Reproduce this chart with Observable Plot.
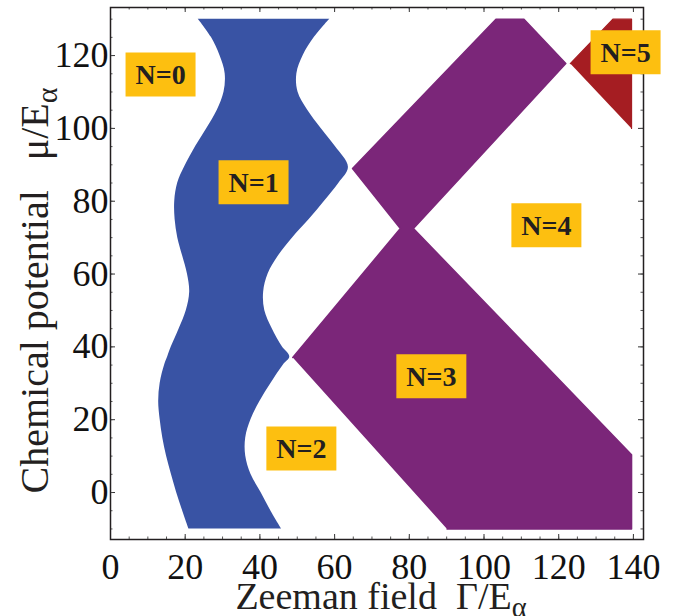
<!DOCTYPE html>
<html><head><meta charset="utf-8">
<script src="https://cdn.jsdelivr.net/npm/d3@7"></script>
<script src="https://cdn.jsdelivr.net/npm/@observablehq/plot@0.6"></script>
<style>body{margin:0;background:#fff} svg text{white-space:pre}</style>
</head><body><div id="chart"></div><script>
// N=1 region (blue): left / right boundary x at given chemical potential y
const blueY     = [-10, -5, 0, 5, 10, 15, 20, 25, 30, 35, 37.2, 40, 45, 50, 55, 60, 65, 70, 75, 80, 85, 89.3, 95, 100, 105, 110, 115, 120, 125, 130];
const blueLeft  = [21.0, 19.3, 17.7, 16.3, 15.0, 14.0, 13.3, 12.9, 13.3, 14.5, 15.3, 16.3, 18.4, 20.3, 21.2, 20.6, 19.3, 18.0, 17.3, 17.2, 18.0, 19.8, 22.8, 25.8, 28.6, 30.4, 30.7, 29.3, 27.0, 23.5];
const blueRight = [45.8, 42.9, 40.3, 37.6, 36.2, 36.2, 37.6, 40.0, 43.0, 46.3, 48.0, 46.0, 43.3, 41.3, 41.0, 42.2, 45.0, 48.8, 53.2, 57.3, 61.2, 63.7, 60.2, 56.4, 52.8, 50.2, 49.9, 51.6, 54.6, 58.7];
// N=3 region (purple) outline
const purpleX = [48.8, 77.6, 64.8, 103.2, 110.7, 121.9, 81.1, 139.5, 139.5, 90.1];
const purpleY = [37.1, 72.5, 89.0, 130, 130, 117.8, 72.5, 10.4, -10, -10];
// N=5 region (red) outline
const redX = [123.1, 134.5, 139.5, 139.5];
const redY = [117.8, 130, 130, 100];
// region labels
const labelText = ["N=0", "N=1", "N=2", "N=3", "N=4", "N=5"];
const labelX = [13.4, 38.3, 51.1, 85.9, 116.7, 137.9];
const labelY = [114.8, 85.2, 12.1, 31.9, 73.4, 120.9];
// ticks
const xTicks = [0, 20, 40, 60, 80, 100, 120, 140];
const yTicks = [0, 20, 40, 60, 80, 100, 120];
const xMinor = d3.range(0, 141, 5);
const yMinor = d3.range(-10, 131, 5);
const xTitle = "Zeeman field  \u0393/E";
const yTitle = "Chemical potential   \u03bc/E";
const subscript = "\u03b1";

const W = 679, H = 616, mL = 110, mR = 36, mT = 7, mB = 77;
const fw = W - mL - mR, fh = H - mT - mB;
const serif = "'Liberation Serif', 'Times New Roman', serif";

const blue = blueY.map((y, i) => ({y, x1: blueLeft[i], x2: blueRight[i]}));
const purple = purpleX.map((x, i) => ({x, y: purpleY[i]}));
const red = redX.map((x, i) => ({x, y: redY[i]}));
const labels = labelText.map((t, i) => ({t, x: labelX[i], y: labelY[i]}));
const box = {draw(ctx) { ctx.moveTo(-35, -22); ctx.lineTo(35, -22); ctx.lineTo(35, 22); ctx.lineTo(-35, 22); ctx.closePath(); }};

const svg = Plot.plot({
  width: W, height: H,
  marginLeft: mL, marginRight: mR, marginTop: mT, marginBottom: mB,
  style: {fontFamily: serif, background: "#fff", color: "#231F20"},
  x: {domain: [0, 142.7]},
  y: {domain: [-12.9, 133.2]},
  marks: [
    Plot.areaX(blue, {y: "y", x1: "x1", x2: "x2", fill: "#3953A4", curve: "catmull-rom"}),
    Plot.line(purple, {x: "x", y: "y", fill: "#7B2679", stroke: "#7B2679", strokeWidth: 1.5, strokeLinejoin: "round"}),
    Plot.line(red, {x: "x", y: "y", fill: "#A51D22", stroke: "#A51D22", strokeWidth: 1.2, strokeLinejoin: "round"}),
    Plot.tickX(xTicks, {x: d => d, insetTop: fh - 5, stroke: "#333", strokeWidth: 1}),
    Plot.tickX(xMinor, {x: d => d, insetTop: fh - 2.5, stroke: "#555", strokeWidth: 1}),
    Plot.tickX(xTicks, {x: d => d, insetBottom: fh - 5, stroke: "#333", strokeWidth: 1}),
    Plot.tickX(xMinor, {x: d => d, insetBottom: fh - 2.5, stroke: "#555", strokeWidth: 1}),
    Plot.tickY(yTicks, {y: d => d, insetRight: fw - 5, stroke: "#333", strokeWidth: 1}),
    Plot.tickY(yMinor, {y: d => d, insetRight: fw - 2.5, stroke: "#555", strokeWidth: 1}),
    Plot.tickY(yTicks, {y: d => d, insetLeft: fw - 5, stroke: "#333", strokeWidth: 1}),
    Plot.tickY(yMinor, {y: d => d, insetLeft: fw - 2.5, stroke: "#555", strokeWidth: 1}),
    Plot.frame({stroke: "#231F20", strokeWidth: 1.5}),
    Plot.axisX({ticks: xTicks, tickSize: 0, tickPadding: 14, fontSize: 36, fontFamily: serif, label: null, fill: "#111"}),
    Plot.axisY({ticks: yTicks, tickSize: 0, tickPadding: 2, fontSize: 36, fontFamily: serif, label: null, fill: "#111"}),
    Plot.dot(labels, {x: "x", y: "y", symbol: box, r: 1, fill: "#FDBF10", stroke: "none", clip: false}),
    Plot.text(labels, {x: "x", y: "y", text: "t", fontSize: 28, fontWeight: "bold", fontFamily: serif, fill: "#231F20", dy: 1}),
    Plot.text([xTitle], {text: d => d, frameAnchor: "bottom", lineAnchor: "bottom", textAnchor: "middle", dy: 69, dx: 4, fontSize: 38, fontFamily: serif, fill: "#231F20", className: "xtitle"}),
    Plot.text([yTitle], {text: d => d, frameAnchor: "left", lineAnchor: "bottom", textAnchor: "middle", rotate: -90, dx: -63, dy: 17, fontSize: 40, fontFamily: serif, fill: "#231F20", className: "ytitle"})
  ]
});

for (const cls of ["xtitle", "ytitle"]) {
  svg.querySelectorAll(`g.${cls} text`).forEach(t => {
    t.setAttributeNS("http://www.w3.org/XML/1998/namespace", "xml:space", "preserve");
    const sub = document.createElementNS("http://www.w3.org/2000/svg", "tspan");
    sub.setAttribute("font-size", "0.75em");
    sub.setAttribute("dy", "0.3em");
    sub.textContent = subscript;
    t.appendChild(sub);
  });
}
document.getElementById("chart").appendChild(svg);
</script></body></html>
